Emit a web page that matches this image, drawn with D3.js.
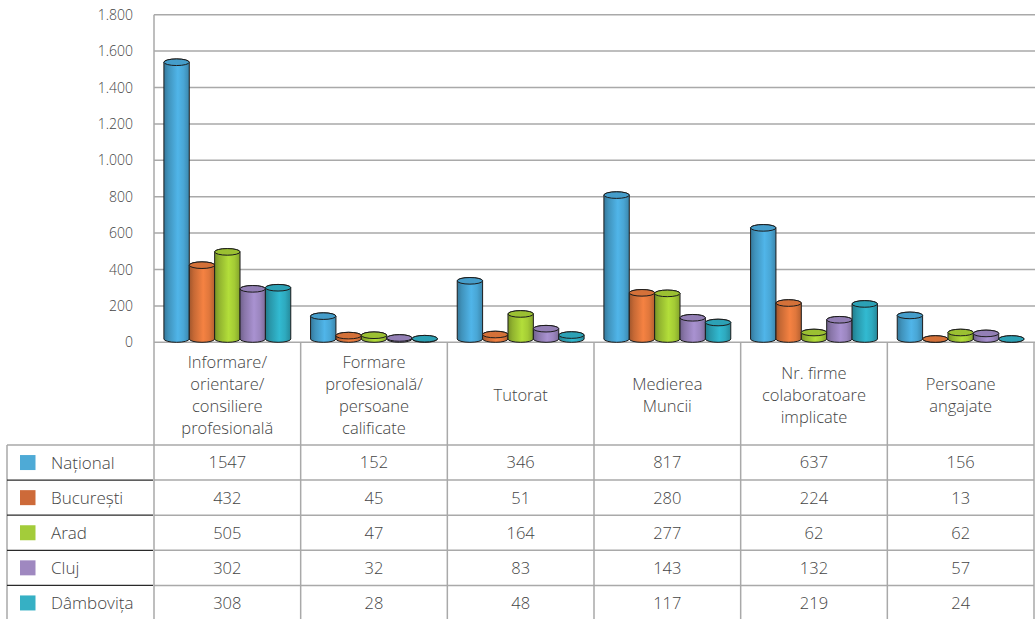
<!DOCTYPE html>
<html>
<head>
<meta charset="utf-8">
<script src="https://cdn.jsdelivr.net/npm/d3@7/dist/d3.min.js"></script>
<style>
  html, body { margin: 0; padding: 0; background: #fff; }
  svg { display: block; font-family: "Open Sans", "Noto Sans", sans-serif; font-weight: 300; }
</style>
</head>
<body>
<svg id="chart" width="1035" height="619"></svg>
<script>
// ---------- data ----------
const categories = [
  ["Informare/", "orientare/", "consiliere", "profesională"],
  ["Formare", "profesională/", "persoane", "calificate"],
  ["Tutorat"],
  ["Medierea", "Muncii"],
  ["Nr. firme", "colaboratoare", "implicate"],
  ["Persoane", "angajate"]
];
const seriesNames = ["Național", "București", "Arad", "Cluj", "Dâmbovița"];
const national   = [1547, 152, 346, 817, 637, 156];
const bucuresti  = [432, 45, 51, 280, 224, 13];
const arad       = [505, 47, 164, 277, 62, 62];
const cluj       = [302, 32, 83, 143, 132, 57];
const dambovita  = [308, 28, 48, 117, 219, 24];
const yTicks = [0, 200, 400, 600, 800, 1000, 1200, 1400, 1600, 1800];

const seriesValues = [national, bucuresti, arad, cluj, dambovita];
const barColors = ["#49a6d5", "#e0773c", "#a4cb35", "#9b86bf", "#2eaabf"];
const legendColors = ["#4eaad6", "#cd6a39", "#a3cc3a", "#9f88c0", "#36b0c4"];

// ---------- layout ----------
const svg = d3.select("#chart");
const left = 154, right = 1034;
const yTop = 14.7, yBase = 342.3;
const headerBottom = 445;
const rowH = 35.1;
const tableLeft = 7;

const x = d3.scaleBand().domain(d3.range(categories.length)).range([left, right]).padding(0);
const xi = d3.scaleBand().domain(d3.range(seriesNames.length)).range([0, x.bandwidth()])
  .paddingInner(0).paddingOuter(0.39);
const y = d3.scaleLinear().domain([0, 1800]).range([yBase, yTop]);

const fmt = d3.formatLocale({decimal: ",", thousands: ".", grouping: [3], currency: ["", ""]}).format(",");

const gridColor = "#a9a9a9";
const textColor = "#444";

// gridlines
svg.append("g").selectAll("line").data(yTicks).join("line")
  .attr("x1", left).attr("x2", 1035)
  .attr("y1", d => y(d)).attr("y2", d => y(d))
  .attr("stroke", gridColor).attr("stroke-width", 1.5);

// y axis labels
svg.append("g").selectAll("text").data(yTicks).join("text")
  .attr("x", 133).attr("y", d => y(d)).attr("dy", "0.36em")
  .attr("text-anchor", "end").attr("font-size", 14).attr("fill", textColor)
  .text(d => fmt(d));

// gradients
const defs = svg.append("defs");
barColors.forEach((c, i) => {
  const col = d3.color(c);
  const g = defs.append("linearGradient").attr("id", "g" + i)
    .attr("x1", "0%").attr("x2", "100%").attr("y1", "0%").attr("y2", "0%");
  g.append("stop").attr("offset", "0%").attr("stop-color", col.darker(0.9));
  g.append("stop").attr("offset", "18%").attr("stop-color", col.darker(0.35));
  g.append("stop").attr("offset", "55%").attr("stop-color", col.brighter(0.25));
  g.append("stop").attr("offset", "78%").attr("stop-color", col);
  g.append("stop").attr("offset", "100%").attr("stop-color", col.darker(0.6));
});

// cylinders
const ry = 3.3;
const barsG = svg.append("g");
categories.forEach((cat, ci) => {
  seriesValues.forEach((vals, si) => {
    const v = vals[ci];
    const bx = x(ci) + xi(si);
    const w = xi.bandwidth();
    const rx = w / 2;
    const yb = y(0) - ry;
    const yt = Math.min(y(v) + 1.5, yb);
    const body = `M${bx},${yt} L${bx},${yb} A${rx},${ry} 0 0 0 ${bx + w},${yb} L${bx + w},${yt} A${rx},${ry} 0 0 0 ${bx},${yt} Z`;
    barsG.append("path").attr("d", body)
      .attr("fill", `url(#g${si})`).attr("stroke", "#1c1c1c").attr("stroke-width", 1);
    barsG.append("ellipse").attr("cx", bx + rx).attr("cy", yt).attr("rx", rx).attr("ry", ry)
      .attr("fill", d3.color(barColors[si]).darker(0.15)).attr("stroke", "#1c1c1c").attr("stroke-width", 1);
  });
});

// table lines
const tl = svg.append("g").attr("stroke", gridColor).attr("stroke-width", 1.5);
tl.append("line").attr("x1", left).attr("x2", left).attr("y1", yTop).attr("y2", 619);
d3.range(1, categories.length + 1).forEach(i => {
  const xx = i === categories.length ? right : x(i);
  tl.append("line").attr("x1", xx).attr("x2", xx).attr("y1", yBase).attr("y2", 619);
});
tl.append("line").attr("x1", tableLeft).attr("x2", tableLeft).attr("y1", headerBottom).attr("y2", 619);
d3.range(seriesNames.length).forEach(r => {
  const yy = headerBottom + r * rowH;
  tl.append("line").attr("x1", r === 0 ? tableLeft : left).attr("x2", right).attr("y1", yy).attr("y2", yy);
  if (r > 0) {
    svg.append("line").attr("x1", tableLeft).attr("x2", left - 1).attr("y1", yy).attr("y2", yy)
      .attr("stroke", "#2a2a2a").attr("stroke-width", 1.3);
  }
});

// header labels
const lineH = 22;
const headerMid = (yBase + headerBottom) / 2 + 1;
categories.forEach((lines, ci) => {
  const cx = x(ci) + x.bandwidth() / 2;
  const start = headerMid - (lines.length - 1) * lineH / 2;
  svg.append("g").selectAll("text").data(lines).join("text")
    .attr("x", cx).attr("y", (d, k) => start + k * lineH).attr("dy", "0.36em")
    .attr("text-anchor", "middle").attr("font-size", 16.5).attr("fill", textColor)
    .text(d => d);
});

// table rows
seriesNames.forEach((name, si) => {
  const cy = headerBottom + si * rowH + rowH / 2;
  svg.append("rect").attr("x", 20).attr("y", cy - 7.5).attr("width", 15.5).attr("height", 15)
    .attr("fill", legendColors[si]);
  svg.append("text").attr("x", 51).attr("y", cy).attr("dy", "0.36em")
    .attr("font-size", 17).attr("fill", textColor).text(name);
  seriesValues[si].forEach((v, ci) => {
    svg.append("text").attr("x", x(ci) + x.bandwidth() / 2).attr("y", cy).attr("dy", "0.36em")
      .attr("text-anchor", "middle").attr("font-size", 16.5).attr("fill", textColor).text(v);
  });
});
</script>
</body>
</html>
